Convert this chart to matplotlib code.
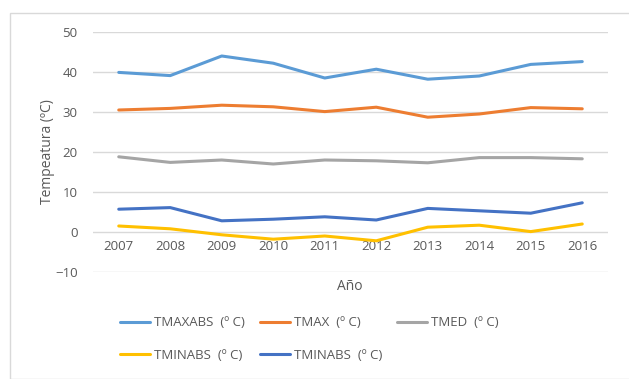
import matplotlib.pyplot as plt
from matplotlib.patches import Rectangle

# datos
anios = [2007, 2008, 2009, 2010, 2011, 2012, 2013, 2014, 2015, 2016]
tmaxabs = [39.9, 39.1, 44.0, 42.2, 38.5, 40.7, 38.2, 39.0, 41.9, 42.6]
tmax = [30.5, 30.9, 31.7, 31.3, 30.1, 31.2, 28.7, 29.5, 31.1, 30.8]
tmed = [18.8, 17.4, 18.0, 17.0, 18.0, 17.8, 17.3, 18.6, 18.6, 18.3]
tminabs_a = [1.5, 0.8, -0.7, -1.8, -1.0, -2.2, 1.2, 1.7, 0.1, 2.0]
tminabs_b = [5.7, 6.1, 2.8, 3.2, 3.8, 3.0, 5.9, 5.3, 4.7, 7.3]

etiquetas = ['TMAXABS  (º C)', 'TMAX  (º C)', 'TMED  (º C)', 'TMINABS  (º C)', 'TMINABS  (º C)']
colores = ['#5B9BD5', '#ED7D31', '#A5A5A5', '#FFC000', '#4472C4']

plt.rcParams['font.family'] = ['Open Sans', 'DejaVu Sans']
gris = '#595959'

fig = plt.figure(figsize=(6.29, 3.79), dpi=100)
# marco del grafico
fig.patches.append(Rectangle((10 / 629, 0), 1, 1 - 13 / 379, transform=fig.transFigure,
                             fill=False, edgecolor='#D9D9D9', linewidth=1))
ax = fig.add_axes([93 / 629, 1 - 272 / 379, (608 - 93) / 629, (272 - 32) / 379])

series = [tmaxabs, tmax, tmed, tminabs_a, tminabs_b]
lineas = []
for s, c, e in zip(series, colores, etiquetas):
    l, = ax.plot(anios, s, color=c, linewidth=2.2, label=e, solid_capstyle='round')
    lineas.append(l)

ax.set_xlim(2006.5, 2016.5)
ax.set_ylim(-10, 50)
ax.set_yticks(range(-10, 51, 10))
ax.grid(axis='y', color='#D9D9D9', linewidth=1)
ax.set_axisbelow(True)
for sp in ax.spines.values():
    sp.set_visible(False)
ax.spines['bottom'].set_position(('data', 0))
ax.set_xticks(anios)
ax.tick_params(length=0, labelsize=9.5, colors=gris, pad=6)
ax.tick_params(axis='y', pad=11)
ax.set_ylabel('Tempeatura (ºC)', fontsize=10, color=gris, labelpad=0)
fig.text(350 / 629, 1 - 287 / 379, 'Año', ha='center', va='center', fontsize=10, color=gris)

# orden por filas como en excel
orden = [0, 3, 1, 4, 2]
fig.legend([lineas[i] for i in orden], [etiquetas[i] for i in orden], ncol=3,
           loc='center left', bbox_to_anchor=(108 / 629, 1 - 339 / 379), frameon=False,
           fontsize=9.5, labelcolor=gris, handlelength=2.3, handletextpad=0.3,
           columnspacing=1.1, labelspacing=1.45)

plt.savefig('out.png', dpi=100)
